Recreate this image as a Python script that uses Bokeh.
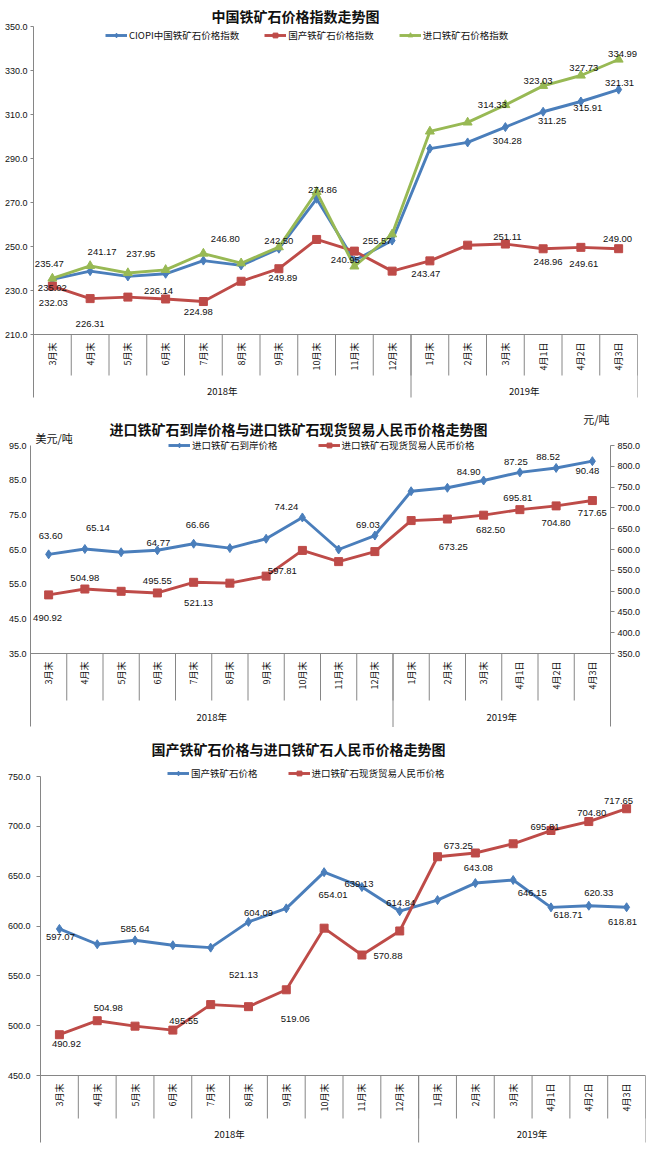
import math
from bokeh.plotting import figure
from bokeh.models import (FactorRange, Range1d, LinearAxis, FixedTicker, PrintfTickFormatter,
                          Span, Legend, LegendItem, Label, ColumnDataSource)
from bokeh.core.properties import value
from bokeh.embed import file_html
from bokeh.resources import INLINE

# ---------------- data ----------------
years = ["2018年"] * 10 + ["2019年"] * 6
periods = ["3月末", "4月末", "5月末", "6月末", "7月末", "8月末", "9月末", "10月末",
           "11月末", "12月末", "1月末", "2月末", "3月末", "4月1日", "4月2日", "4月3日"]
year_groups = ["2018年", "2019年"]

# chart 1
title1 = "中国铁矿石价格指数走势图"
names1 = ["CIOPI中国铁矿石价格指数", "国产铁矿石价格指数", "进口铁矿石价格指数"]
ciopi_index = [235.02, 238.8, 236.4, 237.6, 243.6, 241.4, 249.0, 271.7,
               243.6, 252.7, 294.5, 297.3, 304.28, 311.25, 315.91, 321.31]
domestic_index = [232.03, 226.31, 227.0, 226.14, 224.98, 234.2, 239.9, 253.2,
                  247.9, 238.8, 243.47, 250.6, 251.11, 248.96, 249.61, 249.00]
import_index = [235.47, 241.17, 237.95, 239.4, 246.80, 242.4, 249.7, 274.86,
                240.95, 255.57, 302.3, 306.4, 314.33, 323.03, 327.73, 334.99]
ciopi_text = ["235.02", "", "", "", "", "", "", "", "", "", "", "",
              "304.28", "311.25", "315.91", "321.31"]
domestic_index_text = ["232.03", "226.31", "", "226.14", "224.98", "", "249.89", "", "", "",
                       "243.47", "", "251.11", "248.96", "249.61", "249.00"]
import_index_text = ["235.47", "241.17", "237.95", "", "246.80", "", "242.50", "274.86",
                     "240.95", "255.57", "", "", "314.33", "323.03", "327.73", "334.99"]
index_ticks = [210, 230, 250, 270, 290, 310, 330, 350]

# chart 2
title2 = "进口铁矿石到岸价格与进口铁矿石现货贸易人民币价格走势图"
names2 = ["进口铁矿石到岸价格", "进口铁矿石现货贸易人民币价格"]
unit_left2 = "美元/吨"
unit_right2 = "元/吨"
usd_price = [63.60, 65.14, 64.2, 64.77, 66.66, 65.4, 68.1, 74.24,
             65.0, 69.03, 81.8, 82.8, 84.90, 87.25, 88.52, 90.48]
rmb_price = [490.92, 504.98, 499.5, 495.55, 521.13, 519.06, 536.0, 597.81,
             570.88, 595.0, 669.5, 673.25, 682.50, 695.81, 704.80, 717.65]
usd_text = ["63.60", "65.14", "", "64.77", "66.66", "", "", "74.24", "", "69.03",
            "", "", "84.90", "87.25", "88.52", "90.48"]
rmb_text2 = ["490.92", "504.98", "", "495.55", "521.13", "", "", "597.81", "", "",
             "", "673.25", "682.50", "695.81", "704.80", "717.65"]
usd_ticks = [35, 45, 55, 65, 75, 85, 95]
rmb_ticks = [350, 400, 450, 500, 550, 600, 650, 700, 750, 800, 850]

# chart 3
title3 = "国产铁矿石价格与进口铁矿石人民币价格走势图"
names3 = ["国产铁矿石价格", "进口铁矿石现货贸易人民币价格"]
domestic_price = [597.07, 581.7, 585.64, 580.7, 578.3, 604.09, 617.7, 654.01,
                  639.13, 614.84, 626.0, 643.08, 646.15, 618.71, 620.33, 618.81]
domestic_price_text = ["597.07", "", "585.64", "", "", "604.09", "", "654.01", "639.13",
                       "614.84", "", "643.08", "646.15", "618.71", "620.33", "618.81"]
rmb_text3 = ["490.92", "504.98", "", "495.55", "", "521.13", "519.06", "", "570.88", "",
             "", "673.25", "", "695.81", "704.80", "717.65"]
price_ticks = [450, 500, 550, 600, 650, 700, 750]

# ---------------- styles / layout (pixels) ----------------
NUM_FONT = "Liberation Sans"
CJK_FONT = "Noto Sans CJK SC"
GREY = "#868686"
BLUE = "#4A7EBB"
RED = "#BE4B48"
GREEN = "#98B954"

factors = list(zip(years, periods))

# label offsets (dx, dy) in pixels, dy positive = downwards
off_ciopi = {0: (0, 9), 12: (2, 14), 13: (9, 9), 14: (7, 7), 15: (1, -7)}
off_dom_idx = {0: (1, 17), 1: (0, 25), 3: (-7, -8), 4: (-5, 10), 6: (4, 9), 10: (-4, 13),
               12: (2, -7), 13: (5, 13), 14: (3, 17), 15: (-1, -10)}
off_imp_idx = {0: (-3, -14), 1: (12, -14), 2: (13, -19), 4: (22, -15), 6: (0, -6), 7: (6, -2),
               8: (-9, -6), 9: (-15, 7), 12: (-13, 0), 13: (-5, -5), 14: (3, -7), 15: (4, -6)}
off_usd = {0: (2, -18), 1: (13, -21), 3: (1, -7), 4: (4, -19), 7: (-16, -10), 9: (-7, -11),
           12: (-15, -9), 13: (-4, -10), 14: (-8, -11), 15: (-5, 10)}
off_rmb2 = {0: (-1, 23), 1: (0, -11), 3: (0, -12), 4: (5, 21), 7: (-20, 21), 11: (6, 28),
            12: (7, 15), 13: (-2, -12), 14: (0, 17), 15: (0, 12)}
off_dom = {0: (1, 8), 2: (0, -11), 5: (10, -9), 7: (9, 23), 8: (-3, -3), 9: (1, -8),
           11: (3, -15), 12: (19, 13), 13: (17, 8), 14: (10, -13), 15: (-4, 15)}
off_rmb3 = {0: (7, 9), 1: (11, -13), 3: (11, -9), 5: (-5, -32), 6: (9, 29), 8: (26, 1),
            11: (-17, -7), 13: (-6, -4), 14: (3, -9), 15: (-8, -8)}


def make_fig(height, left, right, lo, hi, top_px, plot_px, below_px):
    """frame fills the whole height; top_px above the top tick, below_px under the lowest"""
    upp = (hi - lo) / plot_px
    start = lo - below_px * upp
    end = hi + top_px * upp
    p = figure(width=650, height=height,
               x_range=FactorRange(factors=factors, group_padding=0, subgroup_padding=0,
                                   factor_padding=0, range_padding=0),
               y_range=Range1d(start, end), x_axis_location=None, y_axis_location="left",
               output_backend="svg", toolbar_location=None,
               min_border_top=0, min_border_bottom=0,
               min_border_left=left, min_border_right=right)
    p.grid.visible = False
    p.outline_line_color = None
    p.background_fill_color = "white"
    p.border_fill_color = "white"
    return p, upp, start


def style_axis(ax, ticks, lo_bound, tick_out, standoff):
    ax.ticker = FixedTicker(ticks=ticks, minor_ticks=[])
    ax.formatter = PrintfTickFormatter(format="%.1f")
    ax.bounds = (lo_bound, max(ticks))
    ax.axis_line_color = GREY
    ax.axis_line_width = 1
    ax.major_tick_line_color = GREY
    ax.major_tick_out = tick_out
    ax.major_tick_in = 0
    ax.minor_tick_line_color = None
    ax.major_label_text_font = NUM_FONT
    ax.major_label_text_font_size = "9px"
    ax.major_label_text_color = "#111111"
    ax.major_label_standoff = standoff


def add_category_area(p, lo, upp, bottom, label_px, sep_px, year_px, right_edge=True):
    p.add_layout(Span(location=lo, dimension="width", line_color=GREY, line_width=1))
    seps = [f + (0.5,) for f in factors]
    p.segment(x0=seps, y0=[lo] * len(seps), x1=seps, y1=[lo - sep_px * upp] * len(seps),
              line_color=GREY, line_width=1)
    edges = [factors[9] + (0.5,)] + ([factors[-1] + (0.5,)] if right_edge else [])
    p.segment(x0=edges, y0=[lo] * len(edges), x1=edges, y1=[bottom] * len(edges),
              line_color=GREY, line_width=1)
    p.text(x=factors, y=[lo - label_px * upp] * len(factors), text=periods,
           angle=math.pi / 2, text_align="right", text_baseline="middle",
           text_font=value(CJK_FONT), text_font_size="9px", text_color="#111111")
    p.text(x=year_groups, y=[lo - year_px * upp] * 2, text=year_groups,
           text_align="center", text_baseline="middle",
           text_font=value(CJK_FONT), text_font_size="9.5px", text_color="#111111")


def add_series(p, vals, color, marker, size, rname=None):
    kw = {"y_range_name": rname} if rname else {}
    src = ColumnDataSource(dict(x=factors, y=vals))
    l = p.line("x", "y", source=src, line_color=color, line_width=2.9, **kw)
    s = p.scatter("x", "y", source=src, marker=marker, size=size,
                  fill_color=color, line_color=color, **kw)
    return [l, s]


def add_labels(p, vals, texts, offs, upp, rname=None):
    kw = {"y_range_name": rname} if rname else {}
    idx = [i for i, t in enumerate(texts) if t]
    src = ColumnDataSource(dict(
        x=[factors[i] for i in idx],
        y=[vals[i] - offs.get(i, (0, 0))[1] * upp for i in idx],
        t=[texts[i] for i in idx],
        dx=[offs.get(i, (0, 0))[0] for i in idx]))
    p.text("x", "y", text="t", x_offset="dx", source=src, text_align="center",
           text_baseline="middle", text_font=value(NUM_FONT), text_font_size="9.5px",
           text_color="#111111", **kw)


def add_legend(p, items, x, y, spacing):
    lg = Legend(items=[LegendItem(label=n, renderers=r) for n, r in items],
                location=(x, y), orientation="horizontal", spacing=spacing,
                padding=0, margin=0, glyph_width=22, glyph_height=12,
                label_height=12, label_standoff=2, label_text_font=CJK_FONT,
                label_text_font_size="9.5px", label_text_color="#111111",
                background_fill_alpha=0, border_line_color=None)
    p.add_layout(lg)


def add_text(p, text, x, y, size="14px", bold=True, align="center"):
    p.add_layout(Label(x=x, y=y, x_units="screen", y_units="screen", text=text,
                       text_font=CJK_FONT, text_font_size=size,
                       text_font_style="bold" if bold else "normal",
                       text_align=align, text_baseline="middle", text_color="#111111"))


# ---------------- chart 1 (page y 0-400) ----------------
p1, upp1, start1 = make_fig(400, 33, 13, 210, 350, 26, 308, 66)
style_axis(p1.yaxis[0], index_ticks, 210 - 63 * upp1, 3, 3)
add_category_area(p1, 210, upp1, 210 - 63 * upp1, 8, 41, 56)
r_b = add_series(p1, ciopi_index, BLUE, "diamond", 9)
r_r = add_series(p1, domestic_index, RED, "square", 8)
r_g = add_series(p1, import_index, GREEN, "triangle", 9)
add_labels(p1, ciopi_index, ciopi_text, off_ciopi, upp1)
add_labels(p1, domestic_index, domestic_index_text, off_dom_idx, upp1)
add_labels(p1, import_index, import_index_text, off_imp_idx, upp1)
add_legend(p1, list(zip(names1, [r_b, r_r, r_g])), 72, 358, 25)
add_text(p1, title1, 262, 385)

# ---------------- chart 2 (page y 400-727) ----------------
p2, upp2, start2 = make_fig(327, 30, 40, 35, 95, 45, 208, 74)
style_axis(p2.yaxis[0], usd_ticks, 35 - 73 * upp2, 0, 4)
upp2r = (850 - 350) / 208
p2.extra_y_ranges = {"rmb": Range1d(350 - 74 * upp2r, 850 + 45 * upp2r)}
ax2r = LinearAxis(y_range_name="rmb")
style_axis(ax2r, rmb_ticks, 350 - 73 * upp2r, 4, 3)
p2.add_layout(ax2r, "right")
add_category_area(p2, 35, upp2, start2, 8, 47, 63, right_edge=False)
s_usd = add_series(p2, usd_price, BLUE, "diamond", 9)
s_rmb = add_series(p2, rmb_price, RED, "square", 8, "rmb")
add_labels(p2, usd_price, usd_text, off_usd, upp2)
add_labels(p2, rmb_price, rmb_text2, off_rmb2, upp2r, "rmb")
add_legend(p2, list(zip(names2, [s_usd, s_rmb])), 138, 275, 40)
add_text(p2, title2, 268, 299)
add_text(p2, unit_left2, 5, 290, "11px", False, "left")
add_text(p2, unit_right2, 579, 309, "11px", False, "right")

# ---------------- chart 3 (page y 727-1165) ----------------
p3, upp3, start3 = make_fig(438, 40, 5, 450, 750, 49, 299, 90)
style_axis(p3.yaxis[0], price_ticks, 450 - 67 * upp3, 4, 6)
add_category_area(p3, 450, upp3, 450 - 67 * upp3, 8, 43, 58)
s_dom = add_series(p3, domestic_price, BLUE, "diamond", 9)
s_rmb3 = add_series(p3, rmb_price, RED, "square", 8)
add_labels(p3, domestic_price, domestic_price_text, off_dom, upp3)
add_labels(p3, rmb_price, rmb_text3, off_rmb3, upp3)
add_legend(p3, list(zip(names3, [s_dom, s_rmb3])), 127, 385, 30)
add_text(p3, title3, 258, 417)

open("out.html", "w").write(file_html([p1, p2, p3], INLINE))
